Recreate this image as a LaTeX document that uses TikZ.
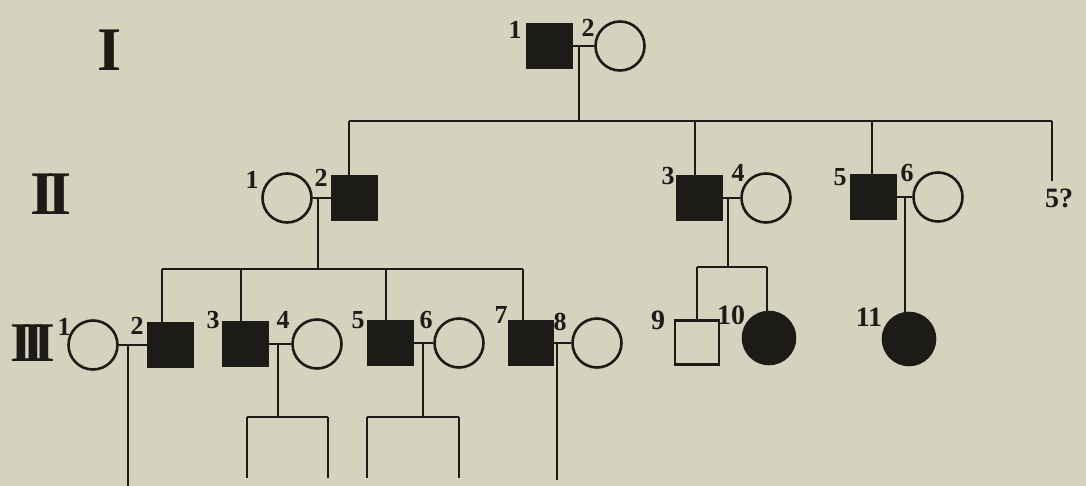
\documentclass[tikz,border=0pt]{standalone}
\usepackage{fontspec}
\setmainfont{Liberation Serif}
\definecolor{paper}{HTML}{D5D2BD}
\definecolor{ink}{HTML}{1C1B18}
\begin{document}
\begin{tikzpicture}[x=1pt,y=-1pt,
  line width=2.4pt, draw=ink,
  male/.style={rectangle,draw=ink,line width=2.4pt,fill=paper,minimum size=44pt,inner sep=0pt},
  amale/.style={male,fill=ink},
  female/.style={circle,draw=ink,line width=2.6pt,fill=paper,minimum size=49pt,inner sep=0pt},
  afemale/.style={female,fill=ink},
  num/.style={inner sep=0pt,text=ink,font=\fontsize{26}{26}\selectfont\bfseries},
  gen/.style={inner sep=0pt,text=ink}]
\fill[paper] (0,0) rectangle (1086,486);
\useasboundingbox (0,0) rectangle (1086,486);

% generation labels
\node[gen,font=\fontsize{62}{62}\selectfont\bfseries] (gI) at (110,50) {I};
\node[gen,font=\fontsize{62}{62}\selectfont\bfseries] (gII) at (51,194) {I\kern-7pt I};
\node[gen,font=\fontsize{56}{56}\selectfont\bfseries] (gIII) at (33,343) {I\kern-10.5pt I\kern-10.5pt I};

% ---------- generation I
\node[amale] (I1) at (549.5,46) {};
\node[female] (I2) at (620,46) {};
\node[num] (lI1) at (515,30) {1};
\node[num] (lI2) at (588,28) {2};

% ---------- generation II
\node[female] (II1) at (287,198) {};
\node[amale] (II2) at (354.5,198) {};
\node[amale] (II3) at (699.5,198) {};
\node[female] (II4) at (766,198) {};
\node[amale] (II5) at (873.5,197) {};
\node[female] (II6) at (938,197) {};
\node[num,font=\fontsize{28}{28}\selectfont\bfseries] (II7) at (1059,198) {5?};
\node[num] (lII1) at (252,180) {1};
\node[num] (lII2) at (321,178) {2};
\node[num] (lII3) at (668,176) {3};
\node[num] (lII4) at (738,173) {4};
\node[num] (lII5) at (840,177) {5};
\node[num] (lII6) at (907,173) {6};

% ---------- generation III
\node[female] (III1) at (93,345) {};
\node[amale] (III2) at (170.5,345) {};
\node[amale] (III3) at (245.5,344) {};
\node[female] (III4) at (317,344) {};
\node[amale] (III5) at (390.5,343) {};
\node[female] (III6) at (459,343) {};
\node[amale] (III7) at (531,343) {};
\node[female] (III8) at (597,343) {};
\node[male] (III9) at (697,342.5) {};
\node[afemale,minimum size=52pt] (III10) at (769,338) {};
\node[afemale,minimum size=52pt] (III11) at (909,339) {};
\node[num] (lIII1) at (64,327) {1};
\node[num] (lIII2) at (137,326) {2};
\node[num] (lIII3) at (213,320) {3};
\node[num] (lIII4) at (283,320) {4};
\node[num] (lIII5) at (358,320) {5};
\node[num] (lIII6) at (426,320) {6};
\node[num] (lIII7) at (501,315) {7};
\node[num] (lIII8) at (560,322) {8};
\node[num,font=\fontsize{28}{28}\selectfont\bfseries] (lIII9) at (658,320) {9};
\node[num,font=\fontsize{28}{28}\selectfont\bfseries] (lIII10) at (731,315) {10};
\node[num,font=\fontsize{28}{28}\selectfont\bfseries] (lIII11) at (869,317) {11};

% ---------- junction coordinates
\coordinate (mI) at (579,46);
\coordinate (sIIa) at (349,121);
\coordinate (sIIb) at (579,121);
\coordinate (sIIc) at (695,121);
\coordinate (sIId) at (872,121);
\coordinate (sIIe) at (1052,121);
\coordinate (q5) at (1052,181);

\coordinate (mII12) at (318,198);
\coordinate (sIIIc) at (318,269);
\coordinate (sIIIa) at (162,269);
\coordinate (sIIIb) at (241,269);
\coordinate (sIIId) at (386,269);
\coordinate (sIIIe) at (523,269);

\coordinate (mII34) at (728,198);
\coordinate (s34) at (728,267);
\coordinate (s34a) at (697,267);
\coordinate (s34b) at (767,267);
\coordinate (mII56) at (905,197);

\coordinate (mIII12) at (128,345);
\coordinate (eIII12) at (128,486);
\coordinate (mIII34) at (278,344);
\coordinate (s3434) at (278,417);
\coordinate (k34a) at (247,417);
\coordinate (k34b) at (328,417);
\coordinate (mIII56) at (423,343);
\coordinate (s5656) at (423,417);
\coordinate (k56a) at (367,417);
\coordinate (k56b) at (459,417);
\coordinate (mIII78) at (557,343);
\coordinate (eIII78) at (557,480);

% ---------- connectors
\draw (I1.east) -- (I2.west);
\draw (mI) -- (sIIb);
\draw (sIIa) -- (sIIe);
\draw (sIIa) -- (sIIa |- II2.north);
\draw (sIIc) -- (sIIc |- II3.north);
\draw (sIId) -- (sIId |- II5.north);
\draw (sIIe) -- (q5);

\draw (II1.east) -- (II2.west);
\draw (mII12) -- (sIIIc);
\draw (sIIIa) -- (sIIIe);
\draw (sIIIa) -- (sIIIa |- III2.north);
\draw (sIIIb) -- (sIIIb |- III3.north);
\draw (sIIId) -- (sIIId |- III5.north);
\draw (sIIIe) -- (sIIIe |- III7.north);

\draw (II3.east) -- (II4.west);
\draw (mII34) -- (s34);
\draw (s34a) -- (s34b);
\draw (s34a) -- (s34a |- III9.north);
\draw (s34b) -- (s34b |- III10.north);

\draw (II5.east) -- (II6.west);
\draw (mII56) -- (mII56 |- III11.north);

\draw (III1.east) -- (III2.west);
\draw (mIII12) -- (eIII12);
\draw (III3.east) -- (III4.west);
\draw (mIII34) -- (s3434);
\draw (k34a) -- (k34b);
\draw (k34a) -- ++(0,61);
\draw (k34b) -- ++(0,61);
\draw (III5.east) -- (III6.west);
\draw (mIII56) -- (s5656);
\draw (k56a) -- (k56b);
\draw (k56a) -- ++(0,61);
\draw (k56b) -- ++(0,61);
\draw (III7.east) -- (III8.west);
\draw (mIII78) -- (eIII78);
\end{tikzpicture}
\end{document}
